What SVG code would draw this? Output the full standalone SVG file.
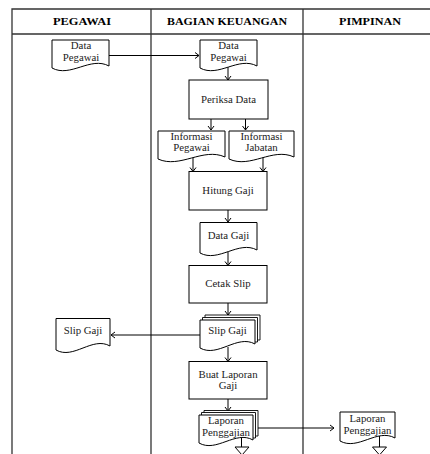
<svg xmlns="http://www.w3.org/2000/svg" width="430" height="454" viewBox="0 0 430 454">
<defs>
<marker id="ah" markerUnits="userSpaceOnUse" markerWidth="8" markerHeight="8" refX="5" refY="4" orient="auto">
<path d="M1,1 L5,4 L1,7" fill="none" stroke="#000" stroke-width="1"/>
</marker>
</defs>
<style>
.lane{stroke:#333;stroke-width:1.3;fill:none}
.hd{font-family:"Liberation Serif","Times New Roman",serif;font-weight:bold;font-size:10px;text-anchor:middle;fill:#000}
.t{font-family:"Liberation Serif","Times New Roman",serif;font-size:10.8px;text-anchor:middle;fill:#222}
.shape{fill:#fff;stroke:#000;stroke-width:1}
.pg{fill:#fff;stroke:#000;stroke-width:0.9}
.cn{stroke:#000;stroke-width:1;fill:none;marker-end:url(#ah)}
.ln{stroke:#000;stroke-width:1;fill:none}
</style>
<rect width="430" height="454" fill="#fff"/>
<g id="lanes">
<path class="lane" d="M12,454 V9 H430 M12,34 H430 M151,9 V454 M303,9 V454"/>
<text class="hd" x="82" y="25" textLength="58" lengthAdjust="spacingAndGlyphs">PEGAWAI</text>
<text class="hd" x="227" y="25" textLength="120" lengthAdjust="spacingAndGlyphs">BAGIAN KEUANGAN</text>
<text class="hd" x="370" y="25" textLength="62" lengthAdjust="spacingAndGlyphs">PIMPINAN</text>
</g>
<g id="connectors">
<line class="cn" x1="109" y1="55.5" x2="199" y2="55.5"/>
<line class="cn" x1="228" y1="67" x2="228" y2="80"/>
<line class="cn" x1="211" y1="119" x2="211" y2="130"/>
<line class="cn" x1="245.5" y1="119" x2="245.5" y2="130"/>
<line class="cn" x1="193" y1="158" x2="193" y2="171.5"/>
<line class="cn" x1="263" y1="156" x2="263" y2="171.5"/>
<line class="cn" x1="228" y1="210" x2="228" y2="222"/>
<line class="cn" x1="228" y1="251" x2="228" y2="265.5"/>
<line class="cn" x1="228" y1="303" x2="228" y2="315"/>
<line class="cn" x1="200" y1="335" x2="111" y2="335"/>
<line class="cn" x1="228" y1="347" x2="228" y2="361.5"/>
<line class="cn" x1="228" y1="399" x2="228" y2="411"/>
<line class="cn" x1="253" y1="428" x2="334" y2="428"/>
</g>
<g id="n-data-pegawai-1">
<path class="shape" d="M52,40 H109 V66 C90.5,56 70.5,78 52,68 Z"/>
<text class="t" x="81" y="49">Data</text>
<text class="t" x="81" y="60.5">Pegawai</text>
</g>
<g id="n-data-pegawai-2">
<path class="shape" d="M200,40 H257 V66 C238.5,56 218.5,78 200,68 Z"/>
<text class="t" x="228.5" y="49">Data</text>
<text class="t" x="228.5" y="60.5">Pegawai</text>
</g>
<g id="n-periksa-data">
<rect class="shape" x="189" y="80" width="79" height="39"/>
<text class="t" x="228.5" y="103">Periksa Data</text>
</g>
<g id="n-informasi-pegawai">
<path class="shape" d="M158,131 H225 V157 C203,147 180,169 158,159 Z"/>
<text class="t" x="191.5" y="140">Informasi</text>
<text class="t" x="191.5" y="151">Pegawai</text>
</g>
<g id="n-informasi-jabatan">
<path class="shape" d="M229,131 H294 V157 C272.5,147 250.5,169 229,159 Z"/>
<text class="t" x="261.5" y="140">Informasi</text>
<text class="t" x="261.5" y="151">Jabatan</text>
</g>
<g id="n-hitung-gaji">
<rect class="shape" x="189" y="171.5" width="78" height="38.5"/>
<text class="t" x="228" y="194">Hitung Gaji</text>
</g>
<g id="n-data-gaji">
<path class="shape" d="M200,222.5 H257 V250 C238.5,240 218.5,263 200,253 Z"/>
<text class="t" x="228.5" y="239">Data Gaji</text>
</g>
<g id="n-cetak-slip">
<rect class="shape" x="189" y="265.5" width="78" height="37.5"/>
<text class="t" x="228" y="286.5">Cetak Slip</text>
</g>
<g id="n-slip-gaji-bk">
<path class="pg" d="M205,317.5 V315 H260 V340 H257.5"/>
<path class="pg" d="M202.5,320 V317.5 H257.5 V342 H255"/>
<path class="shape" d="M200,320 H255 V344 C237,334 218,358 200,348 Z"/>
<text class="t" x="227.5" y="334">Slip Gaji</text>
</g>
<g id="n-slip-gaji-pg">
<path class="shape" d="M56,318.5 H110 V346 C92.5,336 73.5,360 56,350 Z"/>
<text class="t" x="83" y="334">Slip Gaji</text>
</g>
<g id="n-buat-laporan">
<rect class="shape" x="189" y="361.5" width="78" height="37.5"/>
<text class="t" x="228" y="378">Buat Laporan</text>
<text class="t" x="228" y="389">Gaji</text>
</g>
<g id="n-laporan-bk">
<path class="pg" d="M204,413 V410.5 H258 V436 H255.5"/>
<path class="pg" d="M201.5,415 V412.5 H255.5 V438 H253"/>
<path class="shape" d="M199,415 H253 V440 C235.5,430 216.5,453 199,443 Z"/>
<text class="t" x="226" y="424">Laporan</text>
<text class="t" x="226" y="435.5">Penggajian</text>
<line class="ln" x1="241.5" y1="438" x2="241.5" y2="447"/>
<path class="shape" d="M235,447 H249 L242,455 Z"/>
</g>
<g id="n-laporan-pimpinan">
<path class="shape" d="M340,412 H395 V438 C377,428 358,451 340,441 Z"/>
<text class="t" x="367.5" y="422">Laporan</text>
<text class="t" x="367.5" y="433.5">Penggajian</text>
<line class="ln" x1="379.5" y1="436" x2="379.5" y2="447"/>
<path class="shape" d="M372.5,447 H386.5 L379.5,455 Z"/>
</g>
</svg>
